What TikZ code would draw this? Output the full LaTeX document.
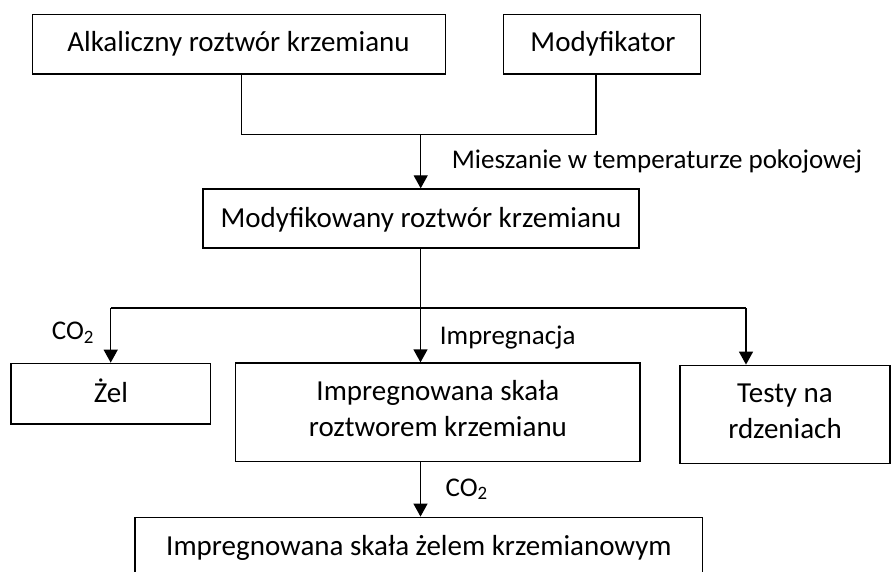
\documentclass[tikz,border=0pt]{standalone}
\usepackage{fontspec}
\setmainfont{Carlito}
\usetikzlibrary{arrows.meta}
\begin{document}
\begin{tikzpicture}[x=1pt,y=-1pt,
  box/.style={draw, line width=1.4pt, inner sep=0pt},
  btxt/.style={inner sep=0pt, anchor=base, font=\fontsize{29}{35}\selectfont},
  lab/.style={inner sep=0pt, anchor=base west, font=\fontsize{27}{33}\selectfont},
  ln/.style={line width=1.4pt},
  arr/.style={line width=1.4pt, -{Triangle[length=13pt,width=14pt]}}]
\useasboundingbox (0,0) rectangle (891,572);
% boxes
\node[box, minimum width=413pt, minimum height=59.7pt] (b1) at (239.2,44.2) {};
\node[box, minimum width=197pt, minimum height=59.7pt] (b2) at (601.7,44.2) {};
\node[box, minimum width=436pt, minimum height=59pt] (b3) at (421,218.5) {};
\node[box, minimum width=199.7pt, minimum height=60.7pt] (zel) at (110.9,393.7) {};
\node[box, minimum width=404.3pt, minimum height=98.7pt] (imp) at (437.9,412.4) {};
\node[box, minimum width=210pt, minimum height=98pt] (tst) at (785,414.3) {};
\node[box, minimum width=567.7pt, minimum height=60pt] (bot) at (418.9,547.3) {};
% box texts
\node[btxt] (t1) at (238.5,51.7) {Alkaliczny roztwór krzemianu};
\node[btxt] (t2) at (603,51.7) {Modyfikator};
\node[btxt] (t3) at (421,227) {Modyfikowany roztwór krzemianu};
\node[btxt] (t4) at (110.9,402.7) {Żel};
\node[btxt] (t5a) at (437.9,400.7) {Impregnowana skała};
\node[btxt] (t5b) at (437.9,436.4) {roztworem krzemianu};
\node[btxt] (t6a) at (785,402.7) {Testy na};
\node[btxt] (t6b) at (785,438.3) {rdzeniach};
\node[btxt] (t7) at (418.9,555) {Impregnowana skała żelem krzemianowym};
% junctions
\coordinate (j1) at (241.3,134.5);
\coordinate (j2) at (596,134.5);
\coordinate (j3) at (420.7,134.5);
\coordinate (j4) at (420.5,308);
\coordinate (jL) at (110.7,308);
\coordinate (jR) at (746,308);
% connectors
\draw[ln] (b1.south -| j1) -- (j1) -- (j2) -- (b2.south -| j2);
\draw[arr] (j3) -- (b3.north -| j3);
\draw[ln] (b3.south -| j4) -- (j4);
\draw[ln] (jL) -- (jR);
\draw[arr] (jL) -- (zel.north -| jL);
\draw[arr] (j4) -- (imp.north -| j4);
\draw[arr] (jR) -- (tst.north -| jR);
\draw[arr] (imp.south -| j4) -- (bot.north -| j4);
% labels
\node[lab] (l1) at (451.7,169) {Mieszanie w temperaturze pokojowej};
\node[lab] (l2) at (51.7,339.3) {CO\textsubscript{2}};
\node[lab] (l3) at (439.7,344) {Impregnacja};
\node[lab] (l4) at (445.5,496) {CO\textsubscript{2}};
\end{tikzpicture}
\end{document}
